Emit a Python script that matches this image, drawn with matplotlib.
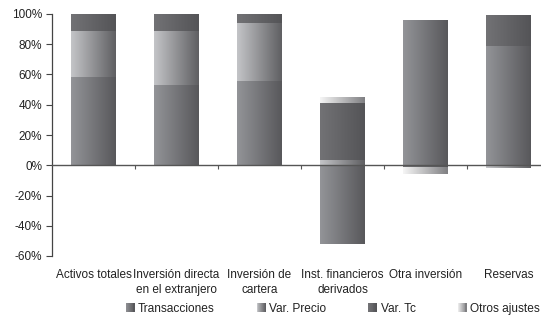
import numpy as np
import matplotlib
matplotlib.use("Agg")
import matplotlib.pyplot as plt
from matplotlib.colors import LinearSegmentedColormap
from matplotlib.legend_handler import HandlerBase
from matplotlib.patches import Rectangle, Patch
from matplotlib.ticker import FuncFormatter

plt.rcParams['font.family'] = ['Liberation Sans', 'DejaVu Sans']

categories = ["Activos totales", "Inversión directa\nen el extranjero", "Inversión de\ncartera",
              "Inst. financieros\nderivados", "Otra inversión", "Reservas"]
series_names = ["Transacciones", "Var. Precio", "Var. Tc", "Otros ajustes"]
transacciones = [58.5, 53.0, 56.0, -52.0, 95.3, 78.8]
var_precio = [30.5, 36.0, 38.0, 3.3, 0.0, -1.8]
var_tc = [11.0, 11.0, 6.0, 37.7, -1.5, 20.0]
otros_ajustes = [0.0, 0.0, 0.0, 3.4, -4.5, 0.0]
yticks = [-60, -40, -20, 0, 20, 40, 60, 80, 100]

series = [transacciones, var_precio, var_tc, otros_ajustes]
grad_colors = [("#939498", "#58585b"),
               ("#c4c5c8", "#5f5f62"),
               ("#727275", "#545457"),
               ("#f6f6f6", "#7f7f82")]
cmaps = [LinearSegmentedColormap.from_list(f"g{i}", list(c)) for i, c in enumerate(grad_colors)]

W, H = 541, 318
fig = plt.figure(figsize=(W / 100, H / 100), dpi=100)
ax = fig.add_axes([52 / W, (H - 256) / H, 498 / W, (256 - 14) / H])

x = np.arange(len(categories))
width = 0.54
pos_base = np.zeros(len(categories))
neg_base = np.zeros(len(categories))
grad = np.linspace(0, 1, 256).reshape(1, -1)
for vals, cmap in zip(series, cmaps):
    vals = np.array(vals, dtype=float)
    bottoms = np.where(vals >= 0, pos_base, neg_base)
    bars = ax.bar(x, vals, width, bottom=bottoms, color="none", edgecolor="none")
    for b in bars:
        if b.get_height() == 0:
            continue
        x0, y0 = b.get_x(), b.get_y()
        x1, y1 = x0 + b.get_width(), y0 + b.get_height()
        ax.imshow(grad, cmap=cmap, extent=[x0, x1, min(y0, y1), max(y0, y1)],
                  aspect="auto", zorder=2, interpolation="bilinear")
    pos_base = pos_base + np.where(vals > 0, vals, 0)
    neg_base = neg_base + np.where(vals < 0, vals, 0)

ax.set_xlim(-0.5, len(categories) - 0.5)
ax.set_ylim(-60, 100)
ax.set_yticks(yticks)
ax.yaxis.set_major_formatter(FuncFormatter(lambda v, p: f"{int(v)}%"))
ax.set_xticks(x)
ax.set_xticklabels(categories, linespacing=1.35)
ax.tick_params(axis="x", length=0, pad=9, labelsize=8.5, labelcolor="#222222")
ax.tick_params(axis="y", direction="out", length=4, width=0.8, color="#444444",
               labelsize=8.5, labelcolor="#222222", pad=3)
for s in ["top", "right", "bottom"]:
    ax.spines[s].set_visible(False)
ax.spines["left"].set_color("#444444")
ax.spines["left"].set_linewidth(0.9)

zero_frac = (0 - (-60)) / (100 - (-60))
sec = ax.secondary_xaxis(zero_frac)
sec.set_xticks(x[:-1] + 0.5)
sec.set_xticklabels([])
sec.tick_params(direction="out", length=3, width=0.8, color="#555555")
sec.spines["bottom"].set_color("#555555")
sec.spines["bottom"].set_linewidth(1.0)
sec.set_zorder(3)


class GradHandler(HandlerBase):
    def __init__(self, cmap):
        super().__init__()
        self.cmap = cmap

    def create_artists(self, legend, orig_handle, xdescent, ydescent, width, height, fontsize, trans):
        n = 10
        arts = []
        size = height
        for i in range(n):
            r = Rectangle((xdescent + i * size / n, -ydescent), size / n + 0.2, size,
                          facecolor=self.cmap(i / (n - 1)), edgecolor="none", transform=trans)
            arts.append(r)
        return arts


handles = [Patch(label=n) for n in series_names]
handler_map = {h: GradHandler(c) for h, c in zip(handles, cmaps)}
fig.legend(handles=handles, labels=series_names, handler_map=handler_map, ncol=4,
           loc="center right", bbox_to_anchor=(1.0, 1 - 309 / H),
           borderaxespad=0, borderpad=0.1,
           frameon=False, fontsize=8.6, handlelength=0.75, handleheight=0.75,
           handletextpad=0.3, columnspacing=3.5, labelcolor="#222222")

fig.savefig("out.png", dpi=100)
